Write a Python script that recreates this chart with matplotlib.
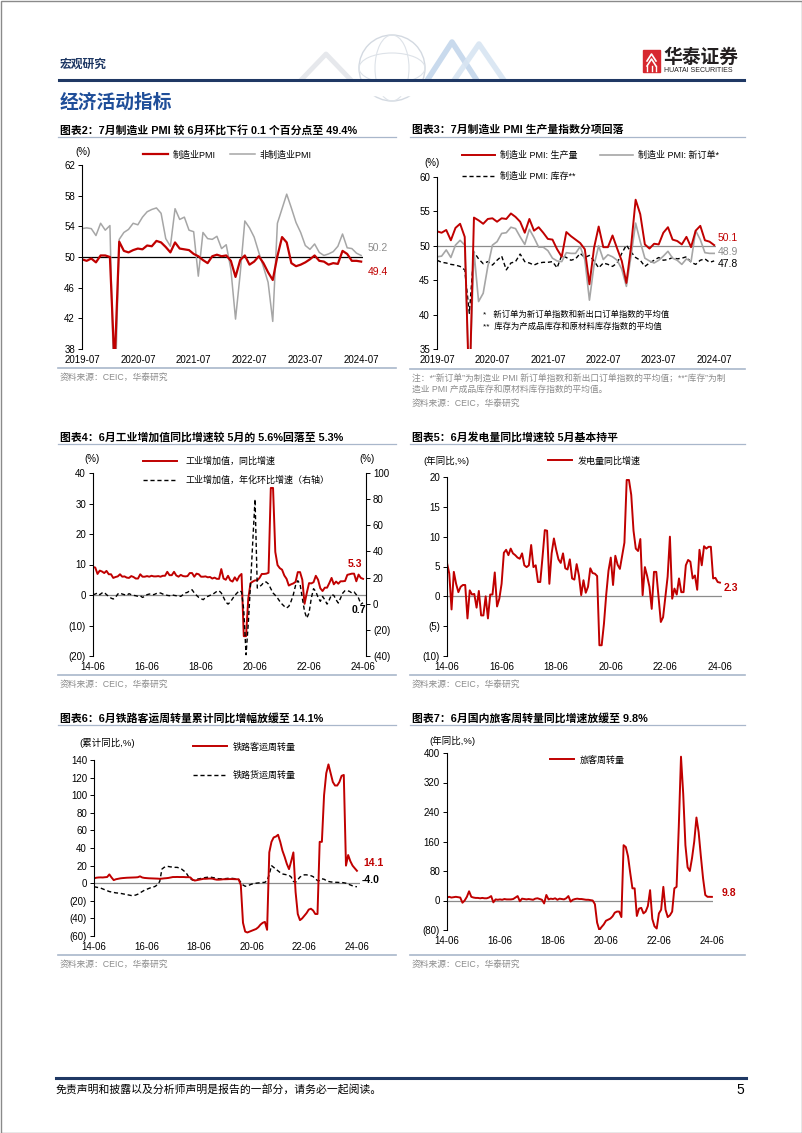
import numpy as np
import matplotlib
matplotlib.use('Agg')
import matplotlib.pyplot as plt
from matplotlib.patches import Rectangle, Circle, Ellipse
from matplotlib.ticker import FuncFormatter

plt.rcParams['font.family'] = ['Liberation Sans', 'Noto Sans CJK SC']
plt.rcParams['axes.unicode_minus'] = False

# ---------------- data ----------------
pmi_labels = ['2019-07', '2020-07', '2021-07', '2022-07', '2023-07', '2024-07']
pmi_mfg = [49.7, 49.5, 49.8, 49.3, 50.2, 50.2,
           50.0, 35.7, 52.0, 50.8, 50.6, 50.9, 51.1, 51.0, 51.5, 51.4, 52.1, 51.9,
           51.3, 50.6, 51.9, 51.1, 51.0, 50.9, 50.4, 50.1, 49.6, 49.2, 50.1, 50.3,
           50.1, 50.2, 49.5, 47.4, 49.6, 50.2, 49.0, 49.4, 50.1, 49.2, 48.0, 47.0,
           50.1, 52.6, 51.9, 49.2, 48.8, 49.0, 49.3, 49.7, 50.2, 49.5, 49.4, 49.0,
           49.2, 49.1, 50.8, 50.4, 49.5, 49.5, 49.4]
pmi_nonmfg = [53.7, 53.8, 53.7, 52.8, 54.4, 53.5,
              54.1, 29.6, 52.3, 53.2, 53.6, 54.4, 54.2, 55.2, 55.9, 56.2, 56.4, 55.7,
              52.4, 51.4, 56.3, 54.9, 55.2, 53.5, 53.3, 47.5, 53.2, 52.4, 52.3, 52.7,
              51.1, 51.6, 48.4, 41.9, 47.8, 54.7, 53.8, 52.6, 50.6, 48.7, 46.7, 41.6,
              54.4, 56.3, 58.2, 56.4, 54.5, 53.2, 51.5, 51.0, 51.7, 50.6, 50.2, 50.4,
              50.7, 51.4, 53.0, 51.2, 51.1, 50.5, 50.2]
pmi_prod = [52.1, 51.9, 52.3, 50.8, 52.6, 53.2,
            51.3, 27.8, 54.1, 53.7, 53.2, 53.9, 54.0, 53.5, 54.0, 53.9, 54.7, 54.2,
            53.5, 51.9, 53.9, 52.2, 52.7, 51.9, 51.0, 50.9, 49.5, 48.4, 52.0, 51.4,
            50.9, 50.4, 49.5, 44.4, 49.7, 52.8, 49.8, 49.8, 51.5, 49.6, 47.8, 44.6,
            49.8, 56.7, 54.6, 50.2, 49.6, 50.3, 50.2, 51.9, 52.7, 50.9, 50.7, 50.2,
            51.3, 49.8, 52.2, 52.9, 50.8, 50.6, 50.1]
pmi_neworder = [48.4, 48.5, 49.4, 48.3, 50.1, 50.8,
                50.1, 29.0, 49.2, 41.9, 43.1, 47.0, 50.1, 50.6, 51.8, 51.9, 52.7, 52.5,
                51.3, 50.2, 52.4, 51.2, 49.8, 49.8, 49.3, 48.2, 47.8, 47.7, 49.0, 48.9,
                48.9, 49.9, 48.0, 42.1, 47.2, 50.0, 48.0, 48.7, 48.4, 47.9, 46.6, 44.1,
                48.5, 53.3, 50.6, 48.2, 47.8, 47.5, 47.9, 48.5, 49.2, 48.2, 47.9, 47.3,
                48.1, 47.7, 52.2, 50.9, 49.0, 48.9, 48.9]
pmi_stock = [47.9, 47.6, 47.5, 47.3, 47.2, 47.0,
             46.5, 40.2, 49.1, 48.1, 47.4, 47.7, 47.2, 47.9, 48.5, 46.5, 47.5, 47.7,
             48.8, 47.7, 47.5, 47.2, 47.5, 47.6, 47.6, 47.7, 46.8, 48.6, 48.3, 47.9,
             48.1, 48.9, 48.3, 48.6, 47.8, 46.8, 47.5, 47.3, 47.0, 47.5, 48.9, 50.1,
             49.1, 48.3, 47.9, 47.0, 47.5, 47.9, 48.3, 47.9, 48.0, 48.3, 48.1, 48.2,
             48.4, 47.6, 47.3, 47.9, 48.1, 47.6, 47.8]

m_labels = ['14-06', '16-06', '18-06', '20-06', '22-06', '24-06']
iva_yoy = [9.2, 9.0, 6.9, 8.0, 7.7, 7.2, 7.9,
           6.8, 6.8, 5.6, 5.9, 6.1, 6.8, 6.0, 6.1, 5.7, 5.6, 6.2, 5.9,
           5.4, 5.4, 6.8, 6.0, 6.0, 6.2, 6.0, 6.3, 6.1, 6.1, 6.2, 6.0,
           6.3, 6.3, 7.6, 6.5, 6.5, 7.6, 6.4, 6.0, 6.6, 6.2, 6.1, 6.2,
           7.2, 7.2, 6.0, 7.0, 6.8, 6.0, 6.0, 6.1, 5.8, 5.9, 5.4, 5.7,
           5.3, 5.3, 8.5, 5.4, 5.0, 6.3, 4.8, 4.4, 5.8, 4.7, 6.2, 6.9,
           -13.5, -13.5, -1.1, 3.9, 4.4, 4.8, 4.8, 5.6, 6.9, 6.9, 7.0, 7.3,
           35.1, 35.1, 14.1, 9.8, 8.8, 8.3, 6.4, 5.3, 3.1, 3.5, 3.8, 4.3,
           7.5, 7.5, 5.0, -2.9, 0.7, 3.9, 3.8, 4.2, 6.3, 5.0, 2.2, 1.3,
           2.4, 2.4, 3.9, 5.6, 3.5, 4.4, 3.7, 4.5, 4.5, 4.6, 6.6, 6.8,
           7.0, 7.0, 4.5, 6.7, 5.6, 5.3]
iva_mom_ann = [6.9, 7.4, 8.2, 6.9, 8.2, 8.7, 6.9, 5.6, 4.3, 3.6,
               4.8, 7.4, 8.2, 7.4, 6.9, 6.4, 7.7, 6.9, 6.4, 6.1,
               5.6, 6.1, 4.8, 5.6, 6.9, 7.4, 7.4, 6.9, 7.7, 8.2,
               8.2, 7.4, 6.9, 6.4, 6.1, 6.9, 6.4, 6.1, 6.1, 5.6,
               6.9, 8.2, 8.7, 10.0, 10.7, 8.2, 6.4, 4.8, 3.8, 3.1,
               4.8, 5.6, 6.4, 6.9, 8.2, 9.4, 9.9, 8.2, 4.8, 1.3,
               -0.3, 1.3, 3.8, 6.4, 8.2, 10.0, 9.0, -5.0, -39.0, -15.0,
               15.0, 48.0, 80.0, 12.0, 13.0, 14.5, 16.6, 16.6, 15.0, 11.5,
               8.2, 6.4, 4.3, 1.8, -0.3, -2.0, -3.3, -2.0, 1.8, 6.9,
               14.0, 17.6, 15.0, 4.3, -5.9, -11.0, -7.0, 4.3, 11.5, 9.4,
               4.8, 1.8, 5.6, 3.0, -0.3, 3.0, 6.9, 6.4, 3.0, 0.5,
               4.3, 8.2, 10.0, 10.0, 9.4, 8.2, 9.0, 6.9, 4.3, -0.3,
               0.7]
power_yoy = [5.6, 3.8, -2.2, 4.1, 2.1, 0.7, 1.6, 1.9, 1.9, -3.7,
             1.0, 0.3, 0.4, -1.9, 0.9, -3.2, -3.2, 0.0, -3.7, 0.3,
             0.3, 4.0, -1.7, -0.4, 2.1, 7.3, 7.8, 6.9, 8.0, 7.2,
             6.9, 6.5, 6.3, 7.2, 5.2, 4.9, 5.2, 8.6, 4.9, 5.2,
             2.4, 2.4, 6.6, 11.1, 11.0, 2.1, 7.2, 9.7, 7.8, 6.2,
             5.6, 7.2, 4.7, 4.5, 6.2, 3.0, 2.8, 5.4, 3.5, 0.2,
             2.7, 0.6, 1.6, 4.7, 3.9, 3.8, 3.4, -8.2, -8.2, -4.6,
             0.3, 4.3, 6.5, 1.9, 6.8, 5.3, 4.6, 6.8, 9.0, 19.5,
             19.5, 17.0, 11.0, 8.0, 7.6, 9.6, 0.2, 4.9, 3.4, 1.6,
             -2.1, 4.1, 4.1, -0.1, -4.3, -3.5, -0.1, 3.3, 10.0, -0.4,
             1.3, 0.3, 3.0, 0.7, 0.7, 5.2, 6.1, 5.8, 3.0, 3.5,
             1.1, 7.8, 5.2, 8.4, 8.0, 8.3, 8.3, 3.0, 3.1, 2.4,
             2.3]
rail_pass = [5.5, 6.2, 6.5, 6.6, 6.5, 6.8, 7.0, 10.0, 6.5, 3.5,
             4.5, 5.0, 5.5, 5.8, 6.0, 6.2, 6.3, 6.4, 6.5, 6.6,
             6.8, 7.8, 6.5, 6.0, 5.8, 5.6, 5.5, 5.4, 5.3, 5.2,
             5.0, 5.2, 5.5, 5.7, 6.0, 6.5, 7.0, 7.0, 7.1, 7.0,
             7.0, 7.0, 6.8, 6.9, 6.5, 4.0, 3.0, 3.5, 4.0, 4.5,
             5.0, 5.0, 5.2, 5.3, 5.2, 4.5, 4.0, 4.0, 4.2, 4.5,
             4.5, 4.6, 4.7, 4.7, 4.6, 4.5, 4.4, -2.0, -45.0, -55.0,
             -56.0, -55.0, -54.0, -53.0, -52.0, -50.0, -47.0, -45.0, -44.0, -53.0,
             35.0, 47.0, 52.0, 53.0, 55.0, 47.0, 37.0, 30.0, 22.0, 16.0,
             25.0, 35.0, -10.0, -35.0, -42.0, -40.0, -37.0, -34.0, -30.0, -29.0,
             -31.0, -35.0, -35.0, 47.0, 47.0, 100.0, 125.0, 135.0, 125.0, 115.0,
             111.0, 111.0, 115.0, 122.0, 123.0, 20.0, 32.0, 25.0, 20.0, 17.0,
             14.1]
rail_freight = [-4.0, -4.5, -5.0, -5.5, -6.5, -7.5, -8.5, -9.5, -10.0, -10.5,
                -11.0, -11.2, -11.5, -12.0, -12.5, -13.0, -13.5, -14.0, -14.0, -13.5,
                -12.5, -11.0, -9.5, -8.0, -7.0, -6.0, -5.0, -4.5, -3.5, -1.5,
                2.0, 16.0, 18.0, 19.0, 19.0, 18.5, 18.5, 18.0, 18.0, 17.0,
                16.0, 14.0, 12.0, 8.0, 5.0, 3.5, 4.0, 4.5, 5.0, 5.5,
                6.0, 6.5, 6.8, 7.0, 6.5, 6.0, 5.5, 5.0, 5.0, 5.0,
                5.2, 5.5, 5.5, 5.5, 5.2, 5.0, 4.5, 1.0, -2.0, -3.5,
                -3.0, -2.0, -1.0, -0.5, 0.0, 0.3, 0.5, 0.8, 1.0, 3.0,
                10.0, 20.0, 18.0, 16.0, 14.0, 12.0, 10.5, 10.0, 9.5, 9.0,
                7.0, 2.0, 1.0, 4.0, 7.0, 8.5, 9.5, 9.5, 9.0, 8.5,
                7.5, 5.0, 3.0, 3.0, 5.0, 4.5, 3.0, 2.0, 1.5, 1.2,
                1.0, 1.0, 0.8, 0.8, 0.5, 0.0, -1.0, -2.0, -3.0, -3.8,
                -4.0]
pass_turnover = [8, 10, 8, 9, 10, 9, 8, -6, 0, 10,
                 25, 10, 8, 7, 7, 6, 7, 6, 6, 8,
                 12, -5, 3, 2, 3, 2, 4, 3, 3, 3,
                 4, 8, 12, -2, 5, 4, 3, 4, 3, 2,
                 5, 6, 4, 2, -8, 15, 3, 5, 4, 6,
                 2, 5, 4, 3, 6, 12, -3, 2, 4, 5,
                 4, 4, 3, 2, 2, 1, 0, -10, -60, -80,
                 -72, -65, -55, -52, -49, -43, -33, -30, -30, -45,
                 150, 145, 120, 75, 33, 33, -42, -22, -20, -35,
                 -30, -15, 28, -50, -70, -76, -35, -25, 37, -25,
                 -45, -40, -30, 33, 37, 200, 390, 290, 150, 90,
                 80, 115, 160, 225, 185, 120, 60, 15, 10, 10,
                 9.8]

RED = '#C00000'
GRAY = '#A6A6A6'
NAVY = '#1F3864'
SEP = '#A9B7CB'
SRC = '#8C8C8C'
DASH = (0, (3, 2))

W, H = 802, 1133
fig = plt.figure(figsize=(W / 100, H / 100), dpi=100)
bg = fig.add_axes([0, 0, 1, 1])
bg.set_xlim(0, W)
bg.set_ylim(H, 0)
bg.axis('off')


def box(x0, y0, x1, y1):
    ax = fig.add_axes([x0 / W, 1 - y1 / H, (x1 - x0) / W, (y1 - y0) / H])
    ax.patch.set_alpha(0)
    return ax


def paren(v, pos):
    return '({:g})'.format(-v) if v < 0 else '{:g}'.format(v)


def style(ax, lo, hi, step, xmax, xt, xl):
    ax.set_ylim(lo, hi)
    ax.set_yticks(np.arange(lo, hi + step / 2, step))
    ax.yaxis.set_major_formatter(FuncFormatter(paren))
    ax.set_xlim(0, xmax)
    ax.set_xticks(xt)
    ax.set_xticklabels(xl)
    for s in ['top', 'right', 'bottom']:
        ax.spines[s].set_visible(False)
    ax.spines['left'].set_linewidth(0.8)
    ax.tick_params(axis='y', length=3, width=0.7, labelsize=7, pad=2)
    ax.tick_params(axis='x', length=0, labelsize=7, pad=4)


def legend(ax, handles, x, y, ncol=1, hl=2.8, cs=1.5, ls=0.5, tp=0.5):
    ax.legend(handles=handles, loc='center left', bbox_to_anchor=(x / W, 1 - y / H),
              bbox_transform=fig.transFigure, frameon=False, ncol=ncol, fontsize=6.5,
              handlelength=hl, handletextpad=tp, columnspacing=cs, labelspacing=ls,
              borderpad=0, borderaxespad=0)


def title(x, y, s, x1):
    bg.text(x, y, s, fontsize=7.8, fontweight='bold', va='center')
    bg.plot([x - 2, x1], [y + 7, y + 7], color=SEP, lw=0.9)


def source(x, y, x1, lines=('资料来源：CEIC，华泰研究',)):
    bg.plot([x - 2, x1], [y - 9, y - 9], color=SEP, lw=1.2)
    for i, s in enumerate(lines):
        bg.text(x, y + i * 11, s, fontsize=6.3, color=SRC, va='center')


# ---------------- page header / footer ----------------
bg.add_patch(Rectangle((0.5, 0.5), W - 1, H - 1, fill=False, ec='#8a8a8a', lw=1))
bg.add_patch(Circle((392, 68), 33, fill=False, ec='#d3d9e1', lw=1, zorder=1))
bg.add_patch(Ellipse((392, 68), 34, 66, fill=False, ec='#dde2e8', lw=0.8, zorder=1))
bg.add_patch(Ellipse((392, 68), 66, 30, fill=False, ec='#dde2e8', lw=0.8, zorder=1))
bg.plot([302, 326, 350], [79, 54, 79], color='#e6e8ec', lw=3.5, zorder=1.2)
bg.plot([428, 452, 476], [79, 42, 79], color='#c3d6eb', lw=4, alpha=0.9, zorder=1.2)
bg.plot([455, 479, 503], [79, 44, 79], color='#d8e5f2', lw=4, alpha=0.9, zorder=1.2)
bg.add_patch(Rectangle((290, 80), 250, 15, color='white', zorder=1.5))
bg.plot([59, 744], [79.5, 79.5], color=NAVY, lw=2.2, zorder=2)
bg.text(60, 65, '宏观研究', fontsize=8.5, fontweight='bold', color=NAVY, va='center')
bg.add_patch(Rectangle((643, 50), 17, 22, color='#D7282F'))
bg.plot([647, 651.5, 656], [61, 54, 61], color='white', lw=1.2)
bg.plot([647, 651.5, 656], [66, 59, 66], color='white', lw=1.2)
for xx in (647, 651.5, 656):
    bg.plot([xx, xx], [66, 71], color='white', lw=1.0)
bg.text(663, 58, '华泰证券', fontsize=13.5, fontweight='bold', color='#231F20', va='center')
bg.text(664, 71, 'HUATAI SECURITIES', fontsize=5.0, color='#231F20', va='center')
bg.text(60, 103, '经济活动指标', fontsize=13.5, fontweight='bold', color='#1F4E99', va='center')

bg.plot([56, 746], [1078, 1078], color=NAVY, lw=2.2)
bg.text(56, 1090, '免责声明和披露以及分析师声明是报告的一部分，请务必一起阅读。',
        fontsize=7.8, va='center')
bg.text(744, 1090, '5', fontsize=10, ha='right', va='center')

# ---------------- chart 2 ----------------
title(60, 130, '图表2：7月制造业 PMI 较 6月环比下行 0.1 个百分点至 49.4%', 396)
ax = box(82, 165, 363, 349)
x = np.arange(len(pmi_mfg))
style(ax, 38, 62, 4, 60.4, [0, 12, 24, 36, 48, 60], pmi_labels)
ax.axhline(50, color='black', lw=0.9)
l2 = ax.plot(x, pmi_nonmfg, color=GRAY, lw=1.1, label='非制造业PMI')[0]
l1 = ax.plot(x, pmi_mfg, color=RED, lw=1.6, label='制造业PMI')[0]
legend(ax, [l1, l2], 143, 155, ncol=2, hl=2.8, cs=1.6, tp=0.45)
bg.text(83, 152, '(%)', fontsize=7, ha='center', va='center')
bg.text(368, 248, '50.2', fontsize=7.5, color='#8C8C8C', va='center')
bg.text(368, 272, '49.4', fontsize=7.5, color=RED, va='center')
source(60, 377, 396)

# ---------------- chart 3 ----------------
title(412, 130, '图表3：7月制造业 PMI 生产量指数分项回落', 745)
ax = box(437, 177, 716, 349)
x = np.arange(len(pmi_prod))
style(ax, 35, 60, 5, 60.4, [0, 12, 24, 36, 48, 60], pmi_labels)
ax.axhline(50, color='#8C8C8C', lw=0.9)
l3 = ax.plot(x, pmi_stock, color='black', lw=1.0, ls=DASH, label='制造业 PMI: 库存**')[0]
l2 = ax.plot(x, pmi_neworder, color=GRAY, lw=1.2, label='制造业 PMI: 新订单*')[0]
l1 = ax.plot(x, pmi_prod, color=RED, lw=1.4, label='制造业 PMI: 生产量')[0]
legend(ax, [l1, l3, l2], 462, 166, ncol=2, hl=3.7, cs=2.4, tp=0.55, ls=1.3)
bg.text(432, 163, '(%)', fontsize=7, ha='center', va='center')
bg.text(483, 315, '*   新订单为新订单指数和新出口订单指数的平均值', fontsize=6, va='center')
bg.text(483, 327, '**  库存为产成品库存和原材料库存指数的平均值', fontsize=6, va='center')
bg.text(718, 238, '50.1', fontsize=7.5, color=RED, va='center')
bg.text(718, 252, '48.9', fontsize=7.5, color='#8C8C8C', va='center')
bg.text(718, 264, '47.8', fontsize=7.5, color='black', va='center')
source(412, 378, 745, ('注：*“新订单”为制造业 PMI 新订单指数和新出口订单指数的平均值；**“库存”为制',
                       '造业 PMI 产成品库存和原材料库存指数的平均值。'))
bg.text(412, 403, '资料来源：CEIC，华泰研究', fontsize=6.3, color=SRC, va='center')

xt = [0, 24, 48, 72, 96, 120]

# ---------------- chart 4 ----------------
title(60, 437, '图表4：6月工业增加值同比增速较 5月的 5.6%回落至 5.3%', 396)
ax = box(93, 473, 366, 656)
x = np.arange(len(iva_yoy))
style(ax, -20, 40, 10, 121.3, xt, m_labels)
ax.axhline(0, color='#8C8C8C', lw=0.9)
l1 = ax.plot(x, iva_yoy, color=RED, lw=1.4, label='工业增加值，同比增速')[0]
ax2 = ax.twinx()
ax2.patch.set_alpha(0)
ax2.set_ylim(-40, 100)
ax2.set_yticks(np.arange(-40, 101, 20))
ax2.yaxis.set_major_formatter(FuncFormatter(paren))
for s in ['top', 'left', 'bottom']:
    ax2.spines[s].set_visible(False)
ax2.spines['right'].set_linewidth(0.8)
ax2.tick_params(axis='y', length=3, width=0.7, labelsize=7, pad=2)
l2 = ax2.plot(x, iva_mom_ann, color='black', lw=1.0, ls=DASH,
              label='工业增加值，年化环比增速（右轴）')[0]
legend(ax2, [l1, l2], 143, 471, hl=3.8, tp=0.9, ls=1.1)
bg.text(92, 459, '(%)', fontsize=7, ha='center', va='center')
bg.text(367, 459, '(%)', fontsize=7, ha='center', va='center')
bg.text(348, 564, '5.3', fontsize=7.5, color=RED, fontweight='bold', va='center')
bg.text(352, 610, '0.7', fontsize=7.5, color='black', fontweight='bold', va='center')
source(60, 684, 396)

# ---------------- chart 5 ----------------
title(412, 437, '图表5：6月发电量同比增速较 5月基本持平', 745)
ax = box(447, 477, 722, 656)
x = np.arange(len(power_yoy))
style(ax, -10, 20, 5, 120.9, xt, m_labels)
ax.axhline(0, color='#8C8C8C', lw=0.9)
l1 = ax.plot(x, power_yoy, color=RED, lw=1.4, label='发电量同比增速')[0]
legend(ax, [l1], 548, 461, hl=2.7, tp=0.55)
bg.text(446, 461, '(年同比,%)', fontsize=6.8, ha='center', va='center')
bg.text(724, 588, '2.3', fontsize=7.5, color=RED, fontweight='bold', va='center')
source(412, 684, 745)

# ---------------- chart 6 ----------------
title(60, 718, '图表6：6月铁路客运周转量累计同比增幅放缓至 14.1%', 396)
ax = box(94, 760, 360, 936)
x = np.arange(len(rail_pass))
style(ax, -60, 140, 20, 121.4, xt, m_labels)
ax.axhline(0, color='#8C8C8C', lw=0.9)
l2 = ax.plot(x, rail_freight, color='black', lw=1.0, ls=DASH, label='铁路货运周转量')[0]
l1 = ax.plot(x, rail_pass, color=RED, lw=1.4, label='铁路客运周转量')[0]
legend(ax, [l1, l2], 193, 761, hl=3.8, tp=0.6, ls=2.1)
bg.text(107, 743, '(累计同比,%)', fontsize=6.8, ha='center', va='center')
bg.text(363, 863, '14.1', fontsize=7.5, color=RED, fontweight='bold', va='center')
bg.text(362, 880, '-4.0', fontsize=7.5, color='black', fontweight='bold', va='center')
source(60, 964, 396)

# ---------------- chart 7 ----------------
title(412, 718, '图表7：6月国内旅客周转量同比增速放缓至 9.8%', 745)
ax = box(447, 753, 713, 930)
x = np.arange(len(pass_turnover))
style(ax, -80, 400, 80, 120.5, xt, m_labels)
ax.axhline(0, color='#8C8C8C', lw=0.9)
l1 = ax.plot(x, pass_turnover, color=RED, lw=1.4, label='旅客周转量')[0]
legend(ax, [l1], 550, 760, hl=2.7, tp=0.55)
bg.text(452, 741, '(年同比,%)', fontsize=6.8, ha='center', va='center')
bg.text(722, 893, '9.8', fontsize=7.5, color=RED, fontweight='bold', va='center')
source(412, 964, 745)

fig.savefig('out.png', dpi=100)
